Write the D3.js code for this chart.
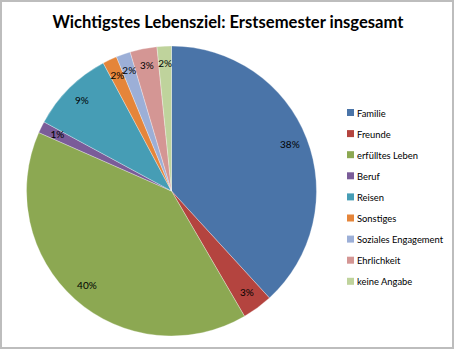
<!DOCTYPE html>
<html><head><meta charset="utf-8">
<script src="https://cdn.jsdelivr.net/npm/d3@7"></script>
<style>body{margin:0;background:#fff}svg{display:block}</style>
</head><body>
<script>
const categories = ["Familie","Freunde","erfülltes Leben","Beruf","Reisen","Sonstiges","Soziales Engagement","Ehrlichkeit","keine Angabe"];
const values = [38.2,3.4,40.0,1.3,9.3,1.6,1.6,3.0,1.6];
const colors = ["#4A74A8","#B4443F","#8CA852","#7A5C99","#469DB5","#E5853A","#9CAFD7","#D49694","#BFD39C"];
const title = "Wichtigstes Lebensziel: Erstsemester insgesamt";

const W=455,H=350;
const svg=d3.select("body").append("svg").attr("width",W).attr("height",H);
svg.append("rect").attr("x",1).attr("y",1).attr("width",W-3).attr("height",H-3)
  .attr("fill","#fff").attr("stroke","#bdbdbd").attr("stroke-width",2);

svg.append("text").attr("x",228).attr("y",28).attr("text-anchor","middle")
  .attr("font-family","Lato, 'Open Sans', sans-serif").attr("font-weight","bold")
  .attr("font-size",16.5).attr("fill","#000")
  .attr("textLength",351).attr("lengthAdjust","spacingAndGlyphs").text(title);

const cx=171.5, cy=191, R=145;
const total=d3.sum(values);
const pie=d3.pie().sort(null).value(d=>d)(values);
const arc=d3.arc().innerRadius(0).outerRadius(R);
const lab=d3.arc().innerRadius(127).outerRadius(127);
const g=svg.append("g").attr("transform",`translate(${cx},${cy})`);
g.selectAll("path").data(pie).join("path").attr("d",arc)
  .attr("fill",(d,i)=>colors[i]).attr("stroke","#fff").attr("stroke-opacity",0.5).attr("stroke-width",0.6);
g.selectAll("text").data(pie).join("text")
  .attr("transform",d=>{const c=lab.centroid(d);return `translate(${c[0]},${c[1]-1})`;})
  .attr("text-anchor","middle").attr("dominant-baseline","central")
  .attr("font-family","Lato, 'Open Sans', sans-serif").attr("font-size",10).attr("fill","#000")
  .text(d=>Math.round(d.data/total*100)+"%");

const lg=svg.append("g");
categories.forEach((c,i)=>{
  const y=113+i*21.1;
  lg.append("rect").attr("x",347).attr("y",y-4).attr("width",7).attr("height",7).attr("fill",colors[i]);
  lg.append("text").attr("x",357).attr("y",y).attr("dominant-baseline","central")
    .attr("font-family","Lato, 'Open Sans', sans-serif").attr("font-size",9.4).attr("fill","#000").text(c);
});
</script>
</body></html>
